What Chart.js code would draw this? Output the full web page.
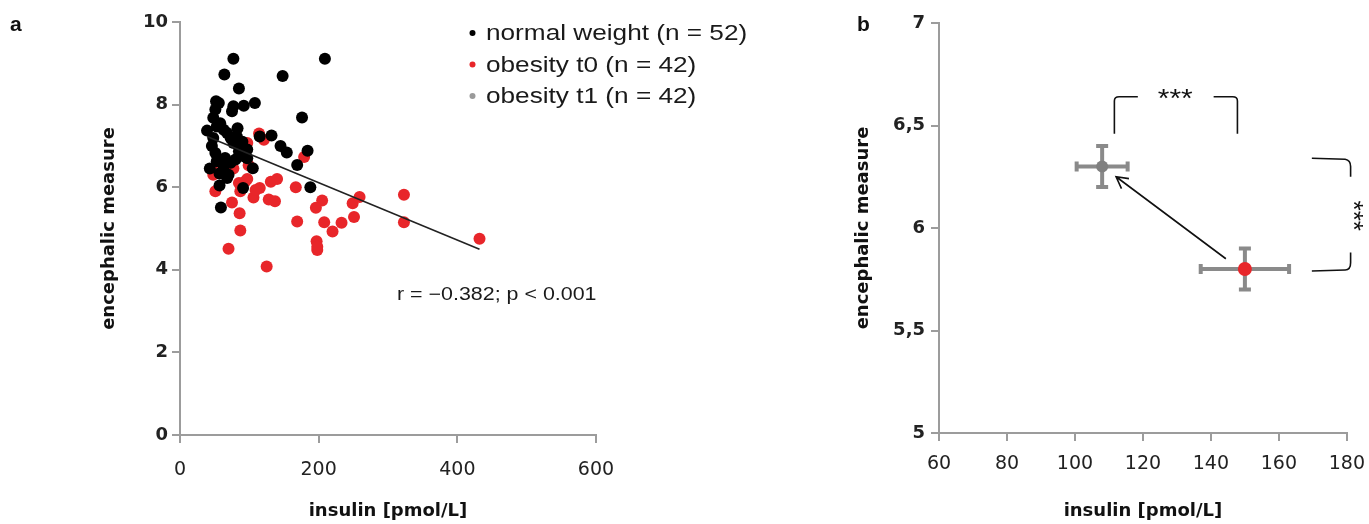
<!DOCTYPE html>
<html>
<head>
<meta charset="utf-8">
<script src="https://cdn.jsdelivr.net/npm/chart.js@4.4.0/dist/chart.umd.min.js"></script>
<style>
body { margin:0; background:#fff; width:1369px; height:524px; overflow:hidden; position:relative; }
#wrapA { position:absolute; left:0; top:0; width:840px; height:524px; }
#wrapB { position:absolute; left:850px; top:0; width:527px; height:524px; }
</style>
</head>
<body>
<div id="wrapA"><canvas id="chartA"></canvas></div>
<div id="wrapB"><canvas id="chartB"></canvas></div>
<script>
// panel a: individual subjects
var normalX = [77, 209, 64, 148, 85, 52, 51, 77, 92, 108, 48, 176, 53, 39, 68, 83, 115, 132, 77, 87,
    145, 154, 184, 51, 65, 92, 73, 43, 57, 70, 105, 169, 57, 91, 188, 59, 58, 73, 85, 97,
    63, 80, 46, 68, 82, 56, 75, 97, 53, 90, 63, 48];
var normalY = [9.11, 9.11, 8.73, 8.69, 8.39, 8.08, 7.88, 7.96, 7.97, 8.04, 7.68, 7.69, 7.47, 7.37, 7.31, 7.43, 7.23, 7.25, 7.07, 6.99,
    7.0, 6.84, 6.88, 6.83, 6.71, 6.75, 6.59, 6.45, 6.33, 6.30, 6.46, 6.54, 6.04, 5.98, 6.0, 5.51, 7.55, 7.19, 6.87, 6.91,
    6.50, 6.67, 7.0, 6.22, 7.23, 8.04, 7.84, 6.70, 6.63, 7.10, 7.39, 7.19];
var obeseX = [114, 121, 97, 179, 99, 48, 68, 131, 140, 85, 94, 51, 87, 115, 167, 106, 128, 137, 205, 259,
    323, 249, 196, 75, 86, 169, 208, 233, 251, 323, 220, 87, 197, 198, 70, 432, 125, 198, 109, 51, 77, 97];
var obeseY = [7.30, 7.15, 7.07, 6.73, 6.53, 6.30, 6.26, 6.13, 6.20, 6.10, 6.14, 5.90, 5.90, 5.98, 6.0, 5.75, 5.70, 5.66, 5.68, 5.76,
    5.82, 5.61, 5.50, 5.63, 5.37, 5.17, 5.15, 5.14, 5.28, 5.15, 4.93, 4.95, 4.69, 4.48, 4.51, 4.75, 4.08, 4.56, 5.93, 6.35, 6.45, 6.2];
var trendX = [39, 432];
var trendY = [7.23, 4.50];

// panel b: group means with SEM
var groupNames = ['obesity t1', 'obesity t0'];
var meanX = [108, 150];
var meanY = [6.30, 5.80];
var semX = [7.5, 13];
var semY = [0.1, 0.1];

var legendItems = ['normal weight (n = 52)', 'obesity t0 (n = 42)', 'obesity t1 (n = 42)'];
var legendColors = ['#000000', '#e8262a', '#9a9a9a'];

var RED = '#e8262a';
var AXIS = '#9c9c9c';

function pts(xs, ys) {
    var out = [];
    for (var i = 0; i < xs.length; i++) out.push({x: xs[i], y: ys[i]});
    return out;
}

function stretchText(ctx, txt, x, y, sx) {
    ctx.save();
    ctx.translate(x, y);
    ctx.scale(sx, 1);
    ctx.fillText(txt, 0, 0);
    ctx.restore();
}

function axisX(opts) {
    return Object.assign({
        type: 'linear',
        grid: {display: true, drawOnChartArea: false, drawTicks: true, tickLength: 8, color: AXIS, lineWidth: 2},
        border: {color: AXIS, width: 2},
        title: {display: true, text: 'insulin [pmol/L]', color: '#111',
            font: {family: 'DejaVu Sans', size: 18, weight: 'bold'}, padding: {top: 0, bottom: 2}}
    }, opts);
}
function axisY(opts) {
    return Object.assign({
        type: 'linear',
        grid: {display: true, drawOnChartArea: false, drawTicks: true, tickLength: 8, color: AXIS, lineWidth: 2},
        border: {color: AXIS, width: 2},
        title: {display: true, text: 'encephalic measure', color: '#111',
            font: {family: 'DejaVu Sans', size: 18, weight: 'bold'}, padding: {top: 0, bottom: 0}}
    }, opts);
}

// legend, r value and panel letter for a
var annotA = {
    id: 'annotA',
    afterDraw: function(chart) {
        var ctx = chart.ctx;
        ctx.save();
        ctx.fillStyle = '#111';
        ctx.font = 'bold 21px Arial, "Liberation Sans", sans-serif';
        ctx.textBaseline = 'alphabetic';
        ctx.fillText('a', 10, 31);
        ctx.font = '22px Arial, "Liberation Sans", sans-serif';
        for (var i = 0; i < legendItems.length; i++) {
            var yb = 40 + i * 31.5;
            ctx.fillStyle = legendColors[i];
            ctx.beginPath();
            ctx.arc(472.5, yb - 7, 3, 0, Math.PI * 2);
            ctx.fill();
            ctx.fillStyle = '#1a1a1a';
            stretchText(ctx, legendItems[i], 486, yb, 1.19);
        }
        ctx.font = '18px Arial, "Liberation Sans", sans-serif';
        stretchText(ctx, 'r = \u22120.382; p < 0.001', 397, 300, 1.19);
        ctx.restore();
    }
};

var chartA = new Chart(document.getElementById('chartA'), {
    type: 'scatter',
    data: {
        datasets: [
            {label: 'trend', type: 'line', data: pts(trendX, trendY), borderColor: '#222', borderWidth: 1.6,
                pointRadius: 0, fill: false},
            {label: legendItems[0], data: pts(normalX, normalY), backgroundColor: '#000', borderColor: '#000',
                pointRadius: 6, borderWidth: 0},
            {label: legendItems[1], data: pts(obeseX, obeseY), backgroundColor: RED, borderColor: RED,
                pointRadius: 6, borderWidth: 0}
        ]
    },
    options: {
        responsive: true,
        maintainAspectRatio: false,
        animation: false,
        layout: {padding: {left: 99, right: 244, top: 22, bottom: 0}},
        plugins: {legend: {display: false}, tooltip: {enabled: false}},
        scales: {
            x: axisX({min: 0, max: 600,
                ticks: {stepSize: 200, padding: 16, font: {family: 'DejaVu Sans', size: 19}, color: '#222'},
                afterFit: function(s) { s.height = 89; }}),
            y: axisY({min: 0, max: 10,
                ticks: {stepSize: 2, padding: 4, font: {family: 'DejaVu Sans', size: 18, weight: 'bold'}, color: '#222'},
                afterFit: function(s) { s.width = 81; }})
        }
    },
    plugins: [annotA]
});

// error bars under the mean points
var errorBars = {
    id: 'errorBars',
    beforeDatasetsDraw: function(chart) {
        var ctx = chart.ctx, xs = chart.scales.x, ys = chart.scales.y;
        ctx.save();
        ctx.strokeStyle = '#8a8a8a';
        ctx.lineWidth = 4;
        for (var i = 0; i < meanX.length; i++) {
            var cx = xs.getPixelForValue(meanX[i]), cy = ys.getPixelForValue(meanY[i]);
            var x0 = xs.getPixelForValue(meanX[i] - semX[i]), x1 = xs.getPixelForValue(meanX[i] + semX[i]);
            var y0 = ys.getPixelForValue(meanY[i] - semY[i]), y1 = ys.getPixelForValue(meanY[i] + semY[i]);
            ctx.beginPath();
            ctx.moveTo(x0, cy); ctx.lineTo(x1, cy);
            ctx.moveTo(x0, cy - 5); ctx.lineTo(x0, cy + 5);
            ctx.moveTo(x1, cy - 5); ctx.lineTo(x1, cy + 5);
            ctx.moveTo(cx, y0); ctx.lineTo(cx, y1);
            ctx.moveTo(cx - 6, y0); ctx.lineTo(cx + 6, y0);
            ctx.moveTo(cx - 6, y1); ctx.lineTo(cx + 6, y1);
            ctx.stroke();
        }
        ctx.restore();
    }
};

// arrow t0 -> t1, significance brackets, panel letter
var annotB = {
    id: 'annotB',
    afterDraw: function(chart) {
        var ctx = chart.ctx, xs = chart.scales.x, ys = chart.scales.y;
        function px(v) { return xs.getPixelForValue(v); }
        function py(v) { return ys.getPixelForValue(v); }
        ctx.save();
        ctx.fillStyle = '#111';
        ctx.font = 'bold 21px Arial, "Liberation Sans", sans-serif';
        ctx.fillText('b', 7, 31);

        ctx.strokeStyle = '#111';
        ctx.lineWidth = 1.6;
        var ax0 = px(144.4), ay0 = py(5.85), ax1 = px(112.1), ay1 = py(6.25);
        ctx.beginPath();
        ctx.moveTo(ax0, ay0); ctx.lineTo(ax1, ay1);
        var ang = Math.atan2(ay1 - ay0, ax1 - ax0), hl = 13;
        ctx.moveTo(ax1 - hl * Math.cos(ang - 0.5), ay1 - hl * Math.sin(ang - 0.5));
        ctx.lineTo(ax1, ay1);
        ctx.lineTo(ax1 - hl * Math.cos(ang + 0.5), ay1 - hl * Math.sin(ang + 0.5));
        ctx.stroke();

        // top bracket
        ctx.beginPath();
        ctx.moveTo(px(111.6), py(6.46)); ctx.lineTo(px(111.6), py(6.62));
        ctx.quadraticCurveTo(px(111.6), py(6.64), px(113), py(6.64));
        ctx.lineTo(px(118.5), py(6.64));
        ctx.moveTo(px(140.8), py(6.64)); ctx.lineTo(px(146.4), py(6.64));
        ctx.quadraticCurveTo(px(147.8), py(6.64), px(147.8), py(6.62));
        ctx.lineTo(px(147.8), py(6.46));
        // right bracket
        ctx.moveTo(px(169.7), py(6.34)); ctx.lineTo(px(179.5), py(6.335));
        ctx.quadraticCurveTo(px(181.1), py(6.33), px(181.1), py(6.30));
        ctx.lineTo(px(181.1), py(6.25));
        ctx.moveTo(px(181.1), py(5.88)); ctx.lineTo(px(181.1), py(5.83));
        ctx.quadraticCurveTo(px(181.1), py(5.795), px(179.5), py(5.795));
        ctx.lineTo(px(169.7), py(5.79));
        ctx.stroke();

        ctx.font = '26px Arial, "Liberation Sans", sans-serif';
        ctx.textAlign = 'center';
        ctx.textBaseline = 'middle';
        stretchText(ctx, '***', px(129.5), py(6.64) + 3, 1.15);
        ctx.save();
        ctx.translate(px(183.2), py(6.06));
        ctx.rotate(Math.PI / 2);
        ctx.fillText('***', 0, 6);
        ctx.restore();
        ctx.restore();
    }
};

var chartB = new Chart(document.getElementById('chartB'), {
    type: 'scatter',
    data: {
        datasets: [
            {label: 'means', data: pts(meanX, meanY),
                pointBackgroundColor: ['#808080', RED], pointBorderColor: ['#808080', RED],
                pointRadius: [6, 7], borderWidth: 0}
        ]
    },
    options: {
        responsive: true,
        maintainAspectRatio: false,
        animation: false,
        layout: {padding: {left: 3, right: 13, top: 23, bottom: 0}},
        plugins: {legend: {display: false}, tooltip: {enabled: false}},
        scales: {
            x: axisX({min: 60, max: 180,
                ticks: {stepSize: 20, padding: 12, font: {family: 'DejaVu Sans', size: 19}, color: '#222'},
                afterFit: function(s) { s.height = 91; }}),
            y: axisY({min: 5, max: 7,
                ticks: {stepSize: 0.5, padding: 6, font: {family: 'DejaVu Sans', size: 18, weight: 'bold'}, color: '#222',
                    callback: function(v) { return String(v).replace('.', ','); }},
                afterFit: function(s) { s.width = 86; }})
        }
    },
    plugins: [errorBars, annotB]
});
</script>
</body>
</html>
